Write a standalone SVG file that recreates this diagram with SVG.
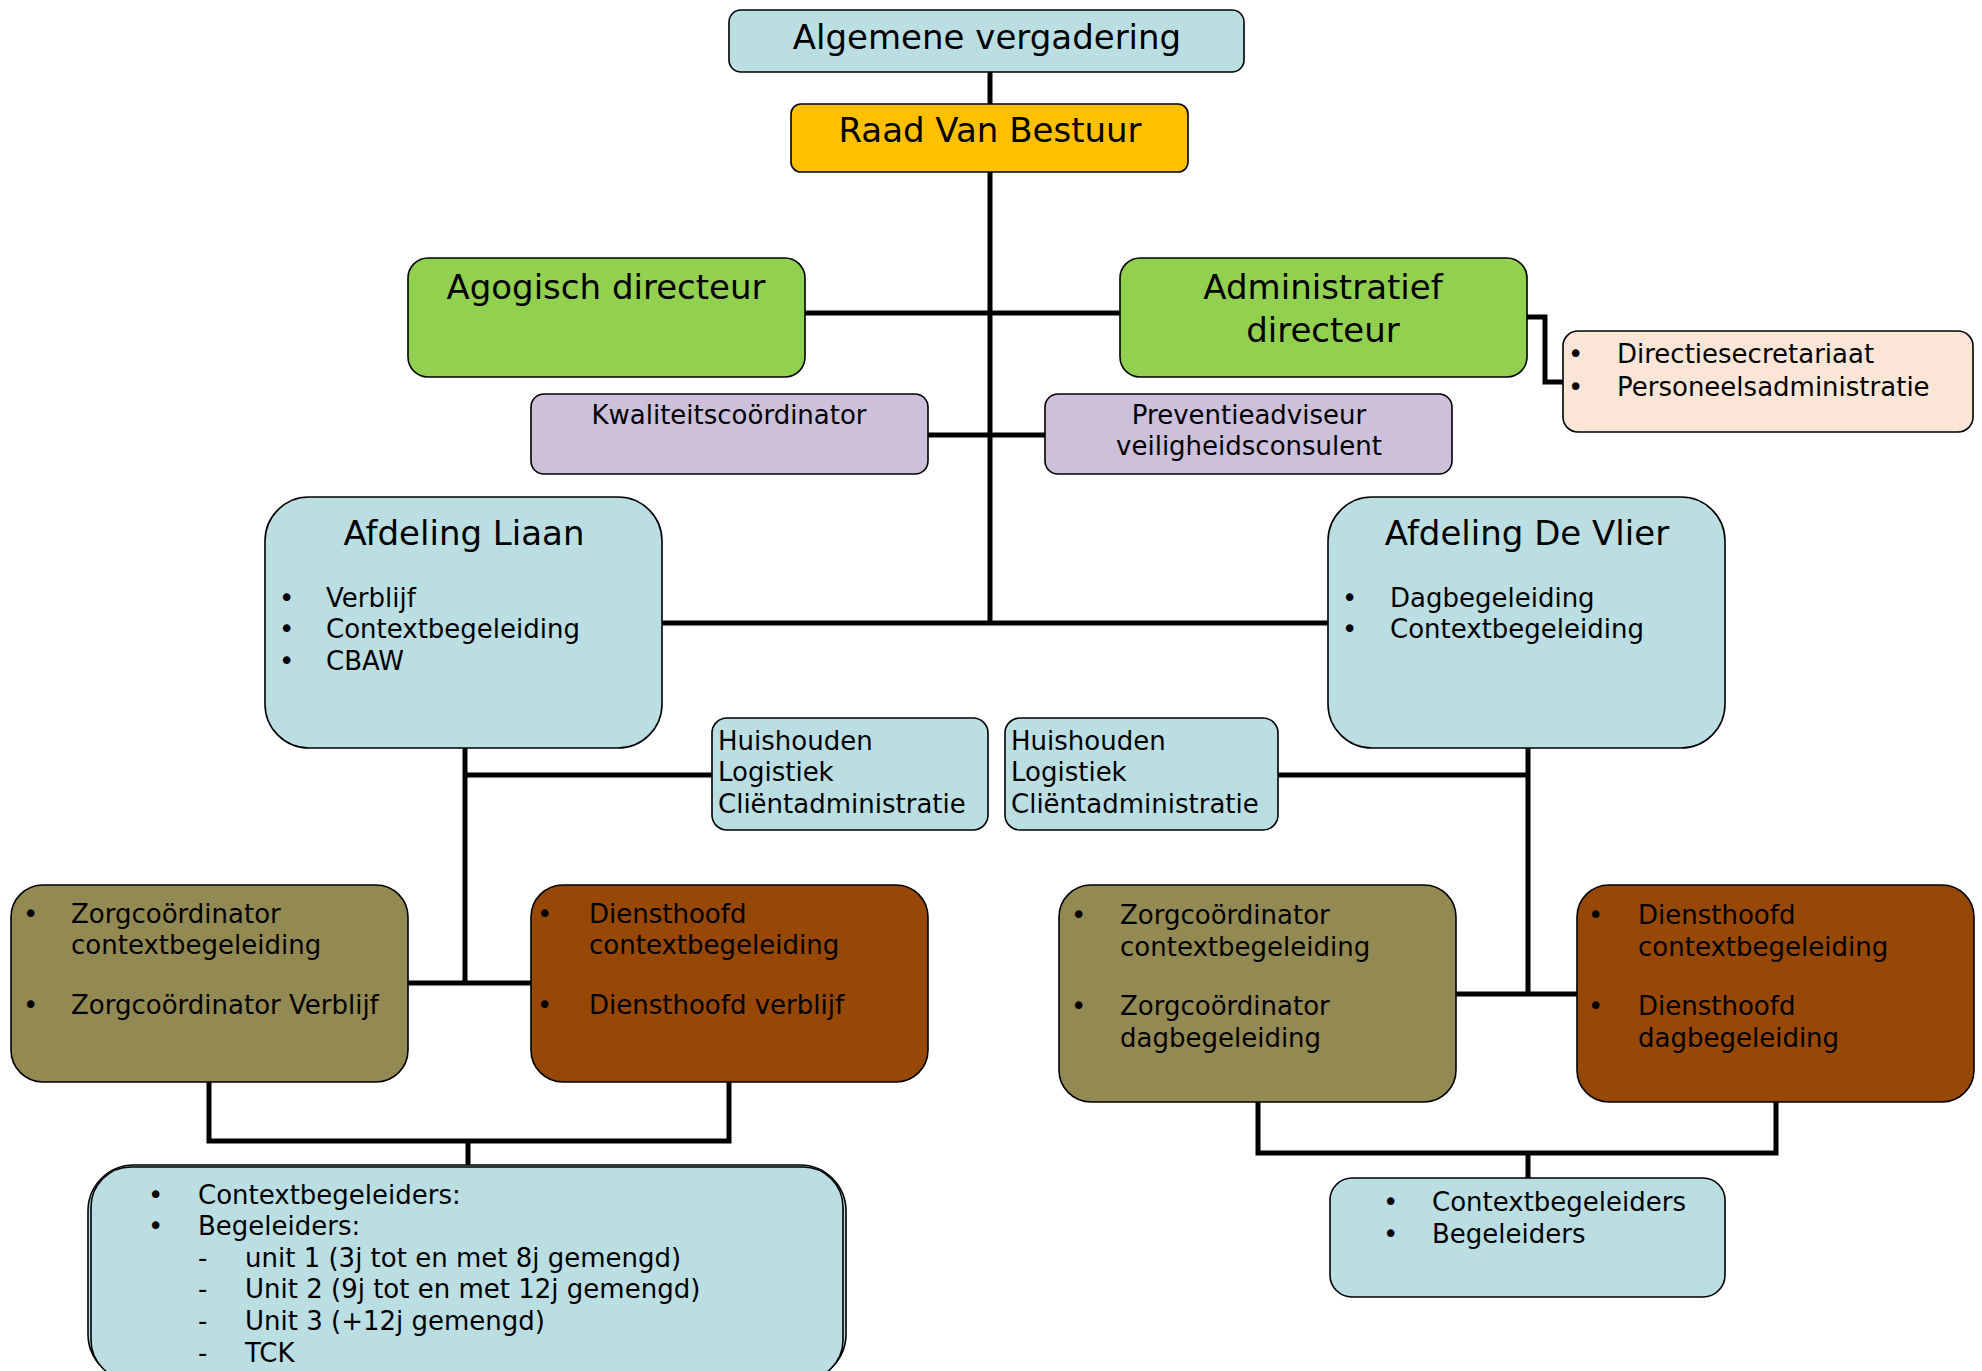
<svg xmlns="http://www.w3.org/2000/svg" width="1982" height="1371" viewBox="0 0 1982 1371">
<style>
  .box { stroke: #000; stroke-width: 1.6; }
  .blue { fill: #BBDEE3; }
  .gold { fill: #FFC000; }
  .green { fill: #92D050; }
  .lav { fill: #CCC0DA; }
  .peach { fill: #FBE5D6; }
  .olive { fill: #938953; }
  .brown { fill: #974706; }
  text { font-family: "DejaVu Sans", "Liberation Sans", sans-serif; fill: #000; }
  .t { font-size: 34px; }
  .b { font-size: 26px; }
  .c { text-anchor: middle; }
  .conn path { stroke: #000; stroke-width: 5; fill: none; }
</style>
<rect width="1982" height="1371" fill="#fff"/>

<g class="conn" id="connectors">
  <path d="M990 72 V104"/>
  <path d="M990 172 V623"/>
  <path d="M805 313 H1120"/>
  <path d="M928 435 H1045"/>
  <path d="M662 623 H1328"/>
  <path d="M1527 317 H1545 V382 H1563"/>
  <path d="M465 748 V983"/>
  <path d="M465 775 H712"/>
  <path d="M408 983 H531"/>
  <path d="M1528 748 V994"/>
  <path d="M1278 775 H1528"/>
  <path d="M1456 994 H1577"/>
  <path d="M209 1082 V1141 H729 V1082"/>
  <path d="M468 1141 V1165"/>
  <path d="M1258 1102 V1153 H1776 V1102"/>
  <path d="M1528 1153 V1178"/>
</g>

<g id="algemene-vergadering">
  <rect class="box blue" x="729" y="10" width="515" height="62" rx="12"/>
  <text class="t c" x="987" y="49">Algemene vergadering</text>
</g>

<g id="raad-van-bestuur">
  <rect class="box gold" x="791" y="104" width="397" height="68" rx="10"/>
  <text class="t c" x="990" y="142">Raad Van Bestuur</text>
</g>

<g id="agogisch-directeur">
  <rect class="box green" x="408" y="258" width="397" height="119" rx="20"/>
  <text class="t c" x="606" y="299">Agogisch directeur</text>
</g>

<g id="administratief-directeur">
  <rect class="box green" x="1120" y="258" width="407" height="119" rx="20"/>
  <text class="t c" x="1323" y="299">Administratief</text>
  <text class="t c" x="1323" y="342">directeur</text>
</g>

<g id="directiesecretariaat">
  <rect class="box peach" x="1563" y="331" width="410" height="101" rx="15"/>
  <text class="b" x="1568" y="363">•</text>
  <text class="b" x="1617" y="363">Directiesecretariaat</text>
  <text class="b" x="1568" y="396">•</text>
  <text class="b" x="1617" y="396">Personeelsadministratie</text>
</g>

<g id="kwaliteitscoordinator">
  <rect class="box lav" x="531" y="394" width="397" height="80" rx="13"/>
  <text class="b c" x="729" y="424">Kwaliteitscoördinator</text>
</g>

<g id="preventieadviseur">
  <rect class="box lav" x="1045" y="394" width="407" height="80" rx="13"/>
  <text class="b c" x="1249" y="424">Preventieadviseur</text>
  <text class="b c" x="1249" y="455">veiligheidsconsulent</text>
</g>

<g id="afdeling-liaan">
  <rect class="box blue" x="265" y="497" width="397" height="251" rx="44"/>
  <text class="t c" x="464" y="545">Afdeling Liaan</text>
  <text class="b" x="279" y="607">•</text>
  <text class="b" x="326" y="607">Verblijf</text>
  <text class="b" x="279" y="638">•</text>
  <text class="b" x="326" y="638">Contextbegeleiding</text>
  <text class="b" x="279" y="670">•</text>
  <text class="b" x="326" y="670">CBAW</text>
</g>

<g id="afdeling-de-vlier">
  <rect class="box blue" x="1328" y="497" width="397" height="251" rx="44"/>
  <text class="t c" x="1527" y="545">Afdeling De Vlier</text>
  <text class="b" x="1342" y="607">•</text>
  <text class="b" x="1390" y="607">Dagbegeleiding</text>
  <text class="b" x="1342" y="638">•</text>
  <text class="b" x="1390" y="638">Contextbegeleiding</text>
</g>

<g id="huishouden-liaan">
  <rect class="box blue" x="712" y="718" width="276" height="112" rx="15"/>
  <text class="b" x="718" y="750">Huishouden</text>
  <text class="b" x="718" y="781">Logistiek</text>
  <text class="b" x="718" y="813">Cliëntadministratie</text>
</g>

<g id="huishouden-devlier">
  <rect class="box blue" x="1005" y="718" width="273" height="112" rx="15"/>
  <text class="b" x="1011" y="750">Huishouden</text>
  <text class="b" x="1011" y="781">Logistiek</text>
  <text class="b" x="1011" y="813">Cliëntadministratie</text>
</g>

<g id="zorgcoordinator-liaan">
  <rect class="box olive" x="11" y="885" width="397" height="197" rx="32"/>
  <text class="b" x="23" y="923">•</text>
  <text class="b" x="71" y="923">Zorgcoördinator</text>
  <text class="b" x="71" y="954">contextbegeleiding</text>
  <text class="b" x="23" y="1014">•</text>
  <text class="b" x="71" y="1014">Zorgcoördinator Verblijf</text>
</g>

<g id="diensthoofd-liaan">
  <rect class="box brown" x="531" y="885" width="397" height="197" rx="32"/>
  <text class="b" x="537" y="923">•</text>
  <text class="b" x="589" y="923">Diensthoofd</text>
  <text class="b" x="589" y="954">contextbegeleiding</text>
  <text class="b" x="537" y="1014">•</text>
  <text class="b" x="589" y="1014">Diensthoofd verblijf</text>
</g>

<g id="zorgcoordinator-devlier">
  <rect class="box olive" x="1059" y="885" width="397" height="217" rx="32"/>
  <text class="b" x="1071" y="924">•</text>
  <text class="b" x="1120" y="924">Zorgcoördinator</text>
  <text class="b" x="1120" y="956">contextbegeleiding</text>
  <text class="b" x="1071" y="1015">•</text>
  <text class="b" x="1120" y="1015">Zorgcoördinator</text>
  <text class="b" x="1120" y="1047">dagbegeleiding</text>
</g>

<g id="diensthoofd-devlier">
  <rect class="box brown" x="1577" y="885" width="397" height="217" rx="32"/>
  <text class="b" x="1588" y="924">•</text>
  <text class="b" x="1638" y="924">Diensthoofd</text>
  <text class="b" x="1638" y="956">contextbegeleiding</text>
  <text class="b" x="1588" y="1015">•</text>
  <text class="b" x="1638" y="1015">Diensthoofd</text>
  <text class="b" x="1638" y="1047">dagbegeleiding</text>
</g>

<g id="begeleiders-liaan">
  <rect class="box blue" x="88" y="1165" width="758" height="215" rx="46"/>
  <rect class="box blue" x="91" y="1167" width="752" height="213" rx="40"/>
  <text class="b" x="148" y="1204">•</text>
  <text class="b" x="198" y="1204">Contextbegeleiders:</text>
  <text class="b" x="148" y="1235">•</text>
  <text class="b" x="198" y="1235">Begeleiders:</text>
  <text class="b" x="198" y="1267">-</text>
  <text class="b" x="245" y="1267">unit 1 (3j tot en met 8j gemengd)</text>
  <text class="b" x="198" y="1298">-</text>
  <text class="b" x="245" y="1298">Unit 2 (9j tot en met 12j gemengd)</text>
  <text class="b" x="198" y="1330">-</text>
  <text class="b" x="245" y="1330">Unit 3 (+12j gemengd)</text>
  <text class="b" x="198" y="1362">-</text>
  <text class="b" x="245" y="1362">TCK</text>
</g>

<g id="begeleiders-devlier">
  <rect class="box blue" x="1330" y="1178" width="395" height="119" rx="22"/>
  <text class="b" x="1383" y="1211">•</text>
  <text class="b" x="1432" y="1211">Contextbegeleiders</text>
  <text class="b" x="1383" y="1243">•</text>
  <text class="b" x="1432" y="1243">Begeleiders</text>
</g>
</svg>
